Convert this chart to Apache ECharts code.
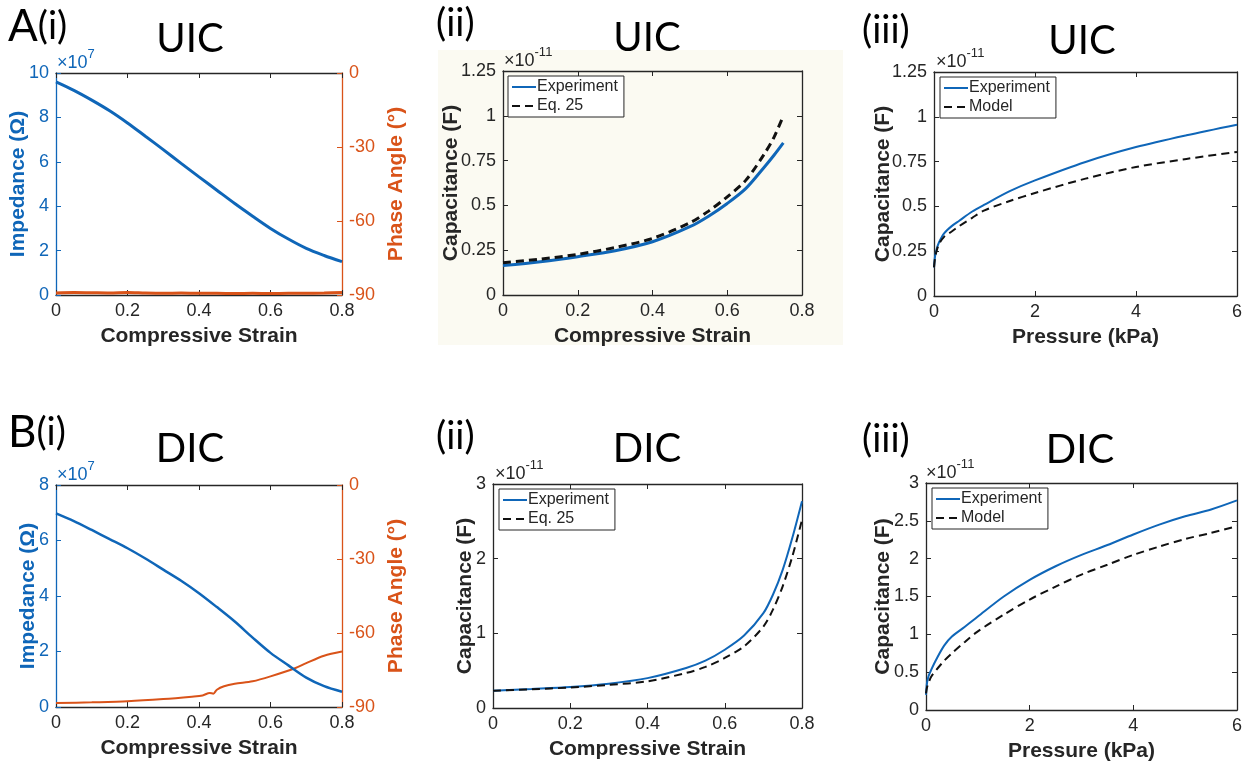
<!DOCTYPE html>
<html lang="en">
<head>
<meta charset="UTF-8">
<title>UIC / DIC capacitance</title>
<script src="https://cdn.jsdelivr.net/npm/echarts@6/dist/echarts.min.js"></script>
<style>
  html, body { margin: 0; padding: 0; background: #fff; }
  #main { width: 1251px; height: 763px; }
</style>
</head>
<body>
<div id="main"></div>
<script>
// ---- data ----
// A(i) UIC impedance (x1e7 ohm) and phase (deg) vs compressive strain
const strainA1 = [0, 0.05, 0.1, 0.15, 0.2, 0.25, 0.3, 0.35, 0.4, 0.45, 0.5, 0.55, 0.6, 0.65, 0.7, 0.75, 0.8];
const impedanceA1 = [9.6, 9.22, 8.78, 8.3, 7.75, 7.15, 6.55, 5.93, 5.32, 4.72, 4.12, 3.55, 3.0, 2.52, 2.1, 1.78, 1.5];
const phaseA1 = [-89.2, -89.0, -89.1, -89.2, -89.0, -89.2, -89.3, -89.2, -89.3, -89.3, -89.4, -89.3, -89.4, -89.3, -89.3, -89.2, -89.0];

// B(i) DIC
const strainB1 = [0, 0.05, 0.1, 0.15, 0.2, 0.25, 0.3, 0.35, 0.4, 0.45, 0.5, 0.55, 0.6, 0.65, 0.7, 0.75, 0.8];
const impedanceB1 = [6.98, 6.7, 6.38, 6.05, 5.72, 5.35, 4.95, 4.55, 4.1, 3.6, 3.08, 2.5, 1.95, 1.5, 1.06, 0.75, 0.55];
const phaseStrainB1 = [0, 0.1, 0.2, 0.3, 0.38, 0.41, 0.43, 0.44, 0.45, 0.47, 0.5, 0.55, 0.6, 0.67, 0.7, 0.75, 0.8];
const phaseB1 = [-88.4, -88.1, -87.7, -86.8, -85.8, -85.3, -84.3, -84.6, -83.0, -81.6, -80.6, -79.6, -77.6, -74.2, -72.2, -69.2, -67.5];

// A(ii) UIC capacitance (x1e-11 F) vs strain
const strainA2 = [0, 0.1, 0.2, 0.3, 0.4, 0.5, 0.55, 0.6, 0.65, 0.7, 0.725, 0.75];
const experimentA2 = [0.164, 0.186, 0.214, 0.247, 0.297, 0.381, 0.44, 0.511, 0.595, 0.716, 0.78, 0.849];
const eq25A2 = [0.18, 0.2, 0.227, 0.265, 0.316, 0.403, 0.468, 0.548, 0.641, 0.79, 0.88, 1.0];

// A(iii) UIC capacitance vs pressure (kPa)
const pressureA3 = [0, 0.02, 0.05, 0.1, 0.2, 0.35, 0.5, 0.75, 1, 1.5, 2, 3, 4, 5, 6];
const experimentA3 = [0.16, 0.22, 0.26, 0.3, 0.35, 0.39, 0.42, 0.47, 0.51, 0.585, 0.645, 0.748, 0.831, 0.897, 0.956];
const modelA3 = [0.16, 0.21, 0.25, 0.29, 0.33, 0.36, 0.39, 0.435, 0.478, 0.53, 0.575, 0.655, 0.72, 0.765, 0.804];

// B(ii) DIC capacitance vs strain
const strainB2 = [0, 0.1, 0.2, 0.3, 0.4, 0.5, 0.55, 0.6, 0.65, 0.7, 0.725, 0.75, 0.775, 0.8];
const experimentB2 = [0.232, 0.255, 0.281, 0.326, 0.40, 0.536, 0.634, 0.78, 0.97, 1.27, 1.52, 1.85, 2.28, 2.77];
const eq25B2 = [0.232, 0.25, 0.275, 0.31, 0.357, 0.469, 0.55, 0.67, 0.826, 1.09, 1.32, 1.63, 2.03, 2.52];

// B(iii) DIC capacitance vs pressure
const pressureB3 = [0, 0.02, 0.05, 0.1, 0.2, 0.35, 0.5, 0.75, 1, 1.5, 2, 2.5, 3, 3.5, 4, 4.5, 5, 5.5, 6];
const experimentB3 = [0.2, 0.36, 0.45, 0.53, 0.67, 0.85, 0.97, 1.1, 1.235, 1.5, 1.72, 1.9, 2.05, 2.18, 2.32, 2.45, 2.56, 2.65, 2.77];
const modelB3 = [0.22, 0.3, 0.36, 0.44, 0.53, 0.65, 0.75, 0.9, 1.04, 1.26, 1.46, 1.63, 1.79, 1.92, 2.05, 2.16, 2.26, 2.34, 2.43];

// ---- styling ----
const dark = '#262626';
const blue = '#0f66b8';
const orange = '#D95319';
const axisFont = 'Liberation Sans, Arial, sans-serif';
const titleFont = 'Lato, Open Sans, sans-serif';

const grids = [], xAxes = [], yAxes = [], series = [], legends = [];

function axis(g, pos, a, color, labels) {
  return {
    type: 'value', gridIndex: g, position: pos,
    min: a.min, max: a.max, interval: a.interval,
    name: labels ? a.name : '',
    nameLocation: 'middle', nameGap: a.gap || 0, nameMoveOverlap: false,
    nameRotate: (pos === 'left' || pos === 'right') ? 90 : 0,
    nameTextStyle: { fontFamily: axisFont, fontWeight: 'bold', fontSize: 21, color: color },
    axisLine: { show: true, onZero: false, lineStyle: { color: color, width: 1.3 } },
    axisTick: { show: true, inside: true, length: 5, lineStyle: { color: color, width: 1 } },
    axisLabel: { show: labels, fontFamily: axisFont, fontSize: 18, color: color, margin: 7 },
    splitLine: { show: false }
  };
}

function addPanel(rect, xa, ya, yb) {
  const g = grids.length;
  grids.push({ left: rect[0], top: rect[1], width: rect[2], height: rect[3] });
  const xi = xAxes.length;
  xAxes.push(axis(g, 'bottom', xa, dark, true), axis(g, 'top', xa, dark, false));
  const yi = yAxes.length;
  yAxes.push(axis(g, 'left', ya, ya.color || dark, true));
  yAxes.push(yb ? axis(g, 'right', yb, yb.color, true) : axis(g, 'right', ya, dark, false));
  return { xi: xi, yi: yi };
}

function line(p, yOffset, name, xs, ys, color, width, dashed) {
  series.push({
    type: 'line', name: name,
    xAxisIndex: p.xi, yAxisIndex: p.yi + yOffset,
    data: xs.map((v, i) => [v, ys[i]]),
    symbol: 'none', smooth: 0.3,
    lineStyle: { color: color, width: width, type: dashed ? [8, 5] : 'solid' },
    itemStyle: { color: color },
    z: dashed ? 3 : 2
  });
}

function legend(left, top, names) {
  legends.push({
    data: names, left: left, top: top, orient: 'vertical',
    backgroundColor: '#fff', borderColor: dark, borderWidth: 1,
    padding: [3, 6, 3, 3], itemGap: 3, itemWidth: 24, itemHeight: 14,
    itemStyle: { opacity: 0 },
    textStyle: { fontFamily: axisFont, fontSize: 16, color: dark, padding: [0, 0, 0, -4] },
    selectedMode: false
  });
}

const strainAxis = { min: 0, max: 0.8, interval: 0.2, name: 'Compressive Strain', gap: 31 };
const pressureAxis = { min: 0, max: 6, interval: 2, name: 'Pressure (kPa)', gap: 31 };

// A(i)
const pA1 = addPanel([56, 73, 286, 222], strainAxis,
  { min: 0, max: 10, interval: 2, name: 'Impedance (\u03A9)', gap: 27, color: blue },
  { min: -90, max: 0, interval: 30, name: 'Phase Angle (\u00B0)', gap: 44, color: orange });
line(pA1, 1, 'Phase', strainA1, phaseA1, orange, 3, false);
line(pA1, 0, 'Impedance', strainA1, impedanceA1, blue, 3, false);

// A(ii)
const pA2 = addPanel([503, 71, 299, 224], strainAxis,
  { min: 0, max: 1.25, interval: 0.25, name: 'Capacitance (F)', gap: 41 });
line(pA2, 0, 'Experiment', strainA2, experimentA2, blue, 3, false);
line(pA2, 0, 'Eq. 25', strainA2, eq25A2, '#111', 3, true);
legend(508, 76, ['Experiment', 'Eq. 25']);

// A(iii)
const pA3 = addPanel([934, 72, 303, 224], pressureAxis,
  { min: 0, max: 1.25, interval: 0.25, name: 'Capacitance (F)', gap: 40 });
line(pA3, 0, 'Experiment', pressureA3, experimentA3, blue, 2, false);
line(pA3, 0, 'Model', pressureA3, modelA3, '#111', 2, true);
legend(940, 77, ['Experiment', 'Model']);

// B(i)
const pB1 = addPanel([56, 485, 286, 222], strainAxis,
  { min: 0, max: 8, interval: 2, name: 'Impedance (\u03A9)', gap: 17, color: blue },
  { min: -90, max: 0, interval: 30, name: 'Phase Angle (\u00B0)', gap: 44, color: orange });
line(pB1, 1, 'Phase', phaseStrainB1, phaseB1, orange, 2, false);
line(pB1, 0, 'Impedance', strainB1, impedanceB1, blue, 2.5, false);

// B(ii)
const pB2 = addPanel([493, 484, 309, 224], strainAxis,
  { min: 0, max: 3, interval: 1, name: 'Capacitance (F)', gap: 17 });
line(pB2, 0, 'Experiment', strainB2, experimentB2, blue, 2, false);
line(pB2, 0, 'Eq. 25', strainB2, eq25B2, '#111', 2, true);
legend(499, 489, ['Experiment', 'Eq. 25']);

// B(iii)
const pB3 = addPanel([926, 483, 311, 227], pressureAxis,
  { min: 0, max: 3, interval: 0.5, name: 'Capacitance (F)', gap: 32 });
line(pB3, 0, 'Experiment', pressureB3, experimentB3, blue, 2, false);
line(pB3, 0, 'Model', pressureB3, modelB3, '#111', 2, true);
legend(932, 488, ['Experiment', 'Model']);

// ---- annotations: panel letters, titles, exponents ----
function label(x, y, text, size, align) {
  return {
    type: 'text', x: x, y: y, z: 100,
    style: { text: text, fontFamily: titleFont, fontSize: size, fill: '#000',
             align: align || 'left', verticalAlign: 'middle' }
  };
}
function panelTag(x, y, letter, roman) {
  return {
    type: 'text', x: x, y: y, z: 100,
    style: {
      text: (letter ? '{a|' + letter + '}' : '') + '{b|' + roman + '}',
      verticalAlign: 'middle',
      rich: {
        a: { fontFamily: titleFont, fontSize: 44, fill: '#000' },
        b: { fontFamily: titleFont, fontSize: 38, fill: '#000' }
      }
    }
  };
}
function exponent(x, y, power, color) {
  return {
    type: 'text', x: x, y: y, z: 100,
    style: {
      text: '{m|\u00D710}{s|' + power + '}',
      verticalAlign: 'middle',
      rich: {
        m: { fontFamily: axisFont, fontSize: 18, fill: color, lineHeight: 24, verticalAlign: 'bottom' },
        s: { fontFamily: axisFont, fontSize: 13, fill: color, lineHeight: 24, verticalAlign: 'top' }
      }
    }
  };
}

const graphics = [
  { type: 'rect', z: -10, shape: { x: 438, y: 50, width: 405, height: 295 }, style: { fill: '#fbfaf2' } },
  panelTag(8, 27, 'A', '(i)'),
  panelTag(436, 24, '', '(ii)'),
  panelTag(862, 31, '', '(iii)'),
  panelTag(8, 433, 'B', '(i)'),
  panelTag(436, 437, '', '(ii)'),
  panelTag(862, 440, '', '(iii)'),
  label(190, 39, 'UIC', 40, 'center'),
  label(647, 38, 'UIC', 40, 'center'),
  label(1082, 41, 'UIC', 40, 'center'),
  label(190, 449, 'DIC', 40, 'center'),
  label(647, 449, 'DIC', 40, 'center'),
  label(1080, 450, 'DIC', 40, 'center'),
  exponent(57, 60, '7', blue),
  exponent(504, 58, '-11', dark),
  exponent(936, 59, '-11', dark),
  exponent(57, 472, '7', blue),
  exponent(495, 471, '-11', dark),
  exponent(926, 470, '-11', dark)
];

const chart = echarts.init(document.getElementById('main'));
chart.setOption({
  animation: false,
  backgroundColor: '#fff',
  grid: grids,
  xAxis: xAxes,
  yAxis: yAxes,
  legend: legends,
  series: series,
  graphic: graphics
});
</script>
</body>
</html>
